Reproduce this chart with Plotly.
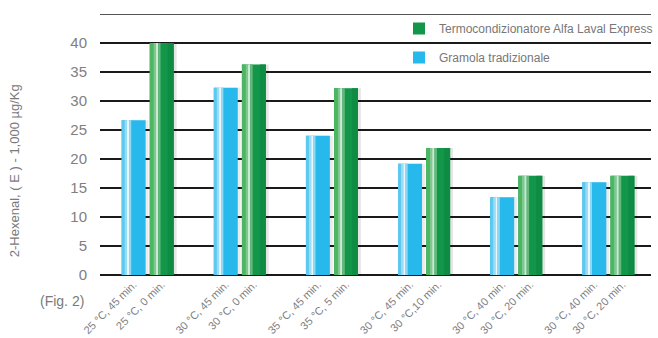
import plotly.graph_objects as go

groups = [0, 1, 2, 3, 4, 5]
blue_labels = ["25 °C, 45 min.", "30 °C, 45 min.", "35 °C, 45 min.", "30 °C, 45 min.", "30 °C, 40 min.", "30 °C, 40 min."]
green_labels = ["25 °C, 0 min.", "30 °C, 0 min.", "35 °C, 5 min.", "30 °C,10 min.", "30 °C, 20 min.", "30 °C, 20 min."]
gramola = [26.7, 32.3, 24.0, 19.2, 13.4, 16.0]
alfa = [40.0, 36.3, 32.2, 21.9, 17.1, 17.1]
y_ticks = [0, 5, 10, 15, 20, 25, 30, 35, 40]

W = 0.26
B_OFF = -0.285
G_OFF = 0.02

fig = go.Figure()

def strips(vals, base_off, parts):
    for (start, width, color) in parts:
        fig.add_trace(go.Bar(x=groups, y=vals, offset=base_off + start * W, width=width * W,
                             marker=dict(color=color, line=dict(width=0)),
                             showlegend=False, hoverinfo="skip"))

# shadows
strips(gramola, B_OFF, [(0.12, 1.0, "rgba(0,0,0,0.08)")])
strips(alfa, G_OFF, [(0.12, 1.0, "rgba(0,0,0,0.10)")])

# main bars
fig.add_trace(go.Bar(x=groups, y=alfa, offset=G_OFF, width=W, name="Termocondizionatore Alfa Laval Express",
                     marker=dict(color="#12964A", line=dict(width=0)), legendgroup="a", legendrank=1))
fig.add_trace(go.Bar(x=groups, y=gramola, offset=B_OFF, width=W, name="Gramola tradizionale",
                     marker=dict(color="#27B9EC", line=dict(width=0)), legendgroup="b", legendrank=2))

# cylinder shading
strips(gramola, B_OFF, [(0.0, 0.12, "#5FC8EF"), (0.12, 0.1, "#9ADCF5"), (0.22, 0.1, "#E8F7FD"),
                        (0.32, 0.08, "#8FD8F4")])
strips(alfa, G_OFF, [(0.0, 0.15, "#4CB663"), (0.15, 0.1, "#7FC890"), (0.25, 0.1, "#CDE9D3"),
                     (0.35, 0.1, "#63B87A"), (0.75, 0.25, "#0E8C43")])

fig.update_layout(
    width=658, height=338,
    margin=dict(l=100, r=0, t=14, b=63),
    paper_bgcolor="white", plot_bgcolor="white",
    barmode="overlay",
    font=dict(family="Liberation Sans", color="#7a7a7a"),
    showlegend=True,
    legend=dict(x=0.543, y=1.0, xanchor="left", yanchor="top", bgcolor="rgba(0,0,0,0)",
                font=dict(size=12, color="#777777"), tracegroupgap=10, itemwidth=30),
    xaxis=dict(range=[-0.52, 5.46], showgrid=False, zeroline=False, showline=False,
               tickmode="array",
               tickvals=[g - 0.155 for g in groups] + [g + 0.15 for g in groups],
               ticktext=blue_labels + green_labels,
               tickangle=-45, tickfont=dict(size=11, color="#808080"), ticks=""),
    yaxis=dict(range=[0, 45], tickvals=y_ticks, showgrid=True, gridcolor="#1a1a1a", gridwidth=1.5,
               zeroline=True, zerolinecolor="#1a1a1a", zerolinewidth=1.5, showline=False,
               tickfont=dict(size=15, color="#808080"), ticks="", ticklabelstandoff=12),
    shapes=[dict(type="line", xref="paper", yref="y", x0=0, x1=1, y0=45, y1=45,
                 line=dict(color="#1a1a1a", width=1.5))],
    annotations=[
        dict(text="2-Hexenal, ( E ) - 1,000 µg/Kg", xref="paper", yref="paper", x=-0.155, y=0.4,
             xanchor="center", yanchor="middle", textangle=-90, showarrow=False,
             font=dict(size=13, color="#7a7a7a")),
        dict(text="(Fig. 2)", xref="paper", yref="paper", x=-0.025, y=-0.1, xanchor="right",
             yanchor="middle", showarrow=False, font=dict(size=14, color="#7a7a7a")),
    ],
)

fig.write_html("out.html")
